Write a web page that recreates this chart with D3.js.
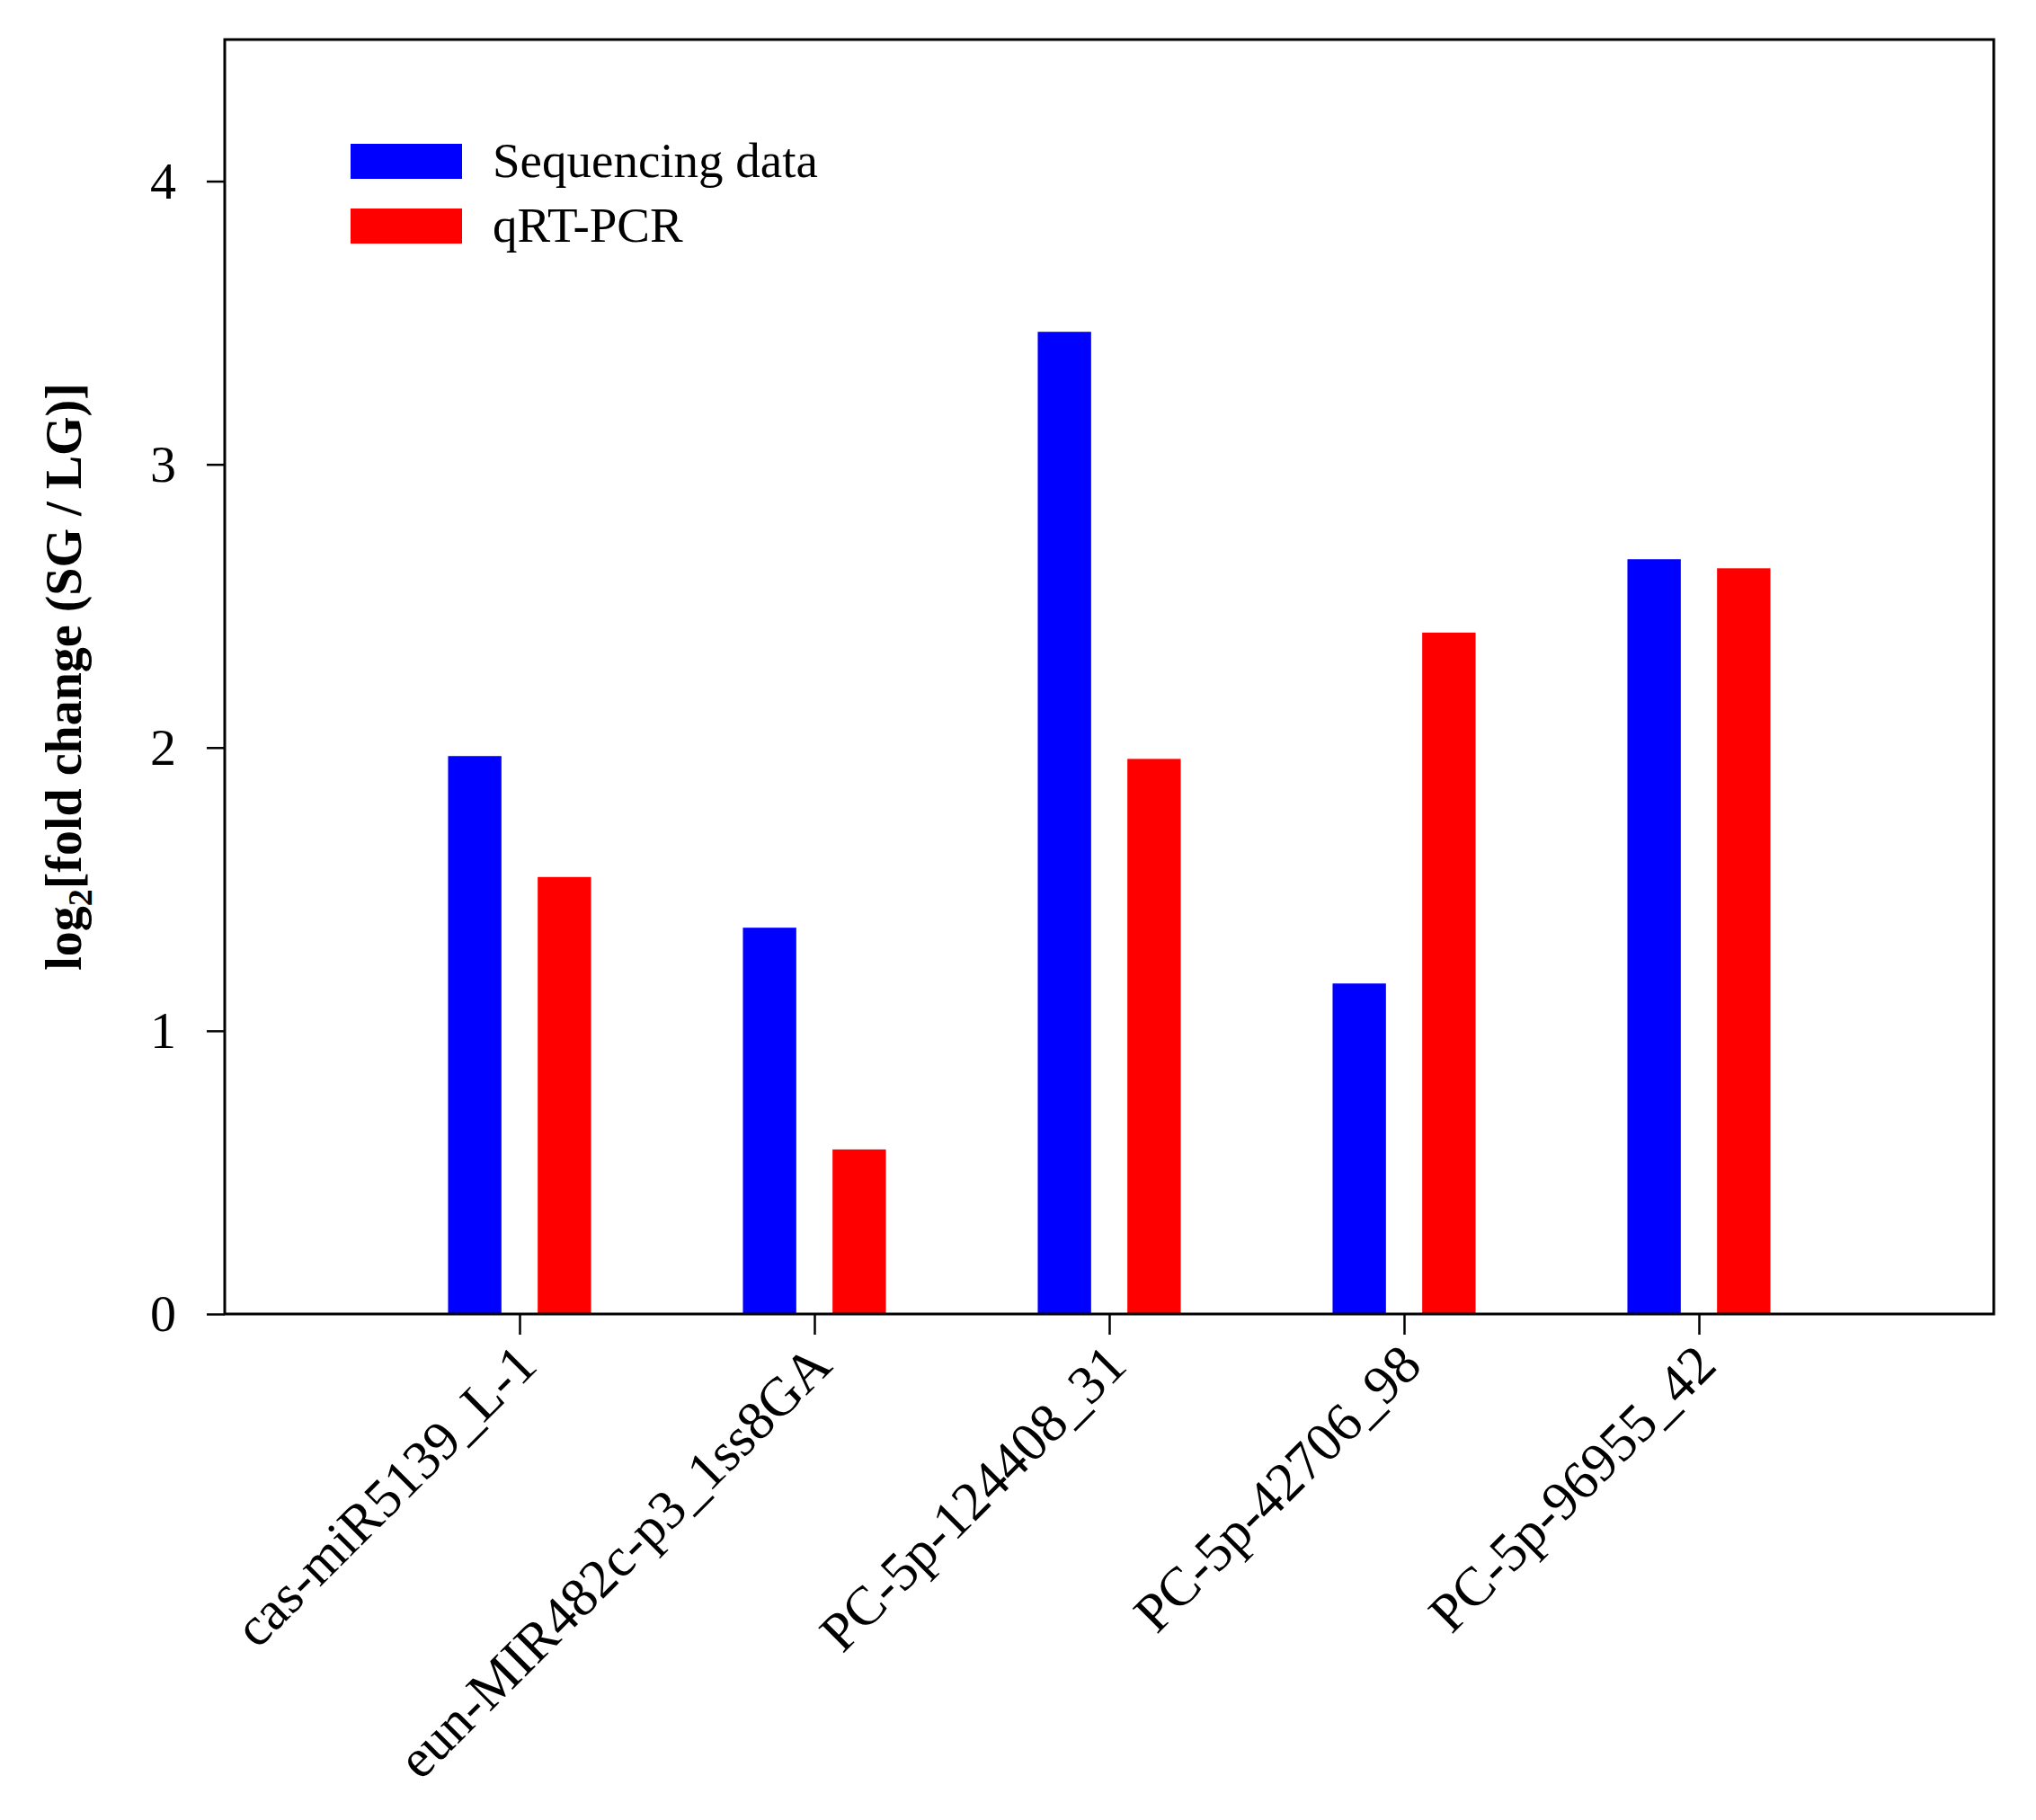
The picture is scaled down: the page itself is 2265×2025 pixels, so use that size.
<!DOCTYPE html>
<html>
<head>
<meta charset="utf-8">
<script src="https://cdn.jsdelivr.net/npm/d3@7"></script>
<style>
  body { margin: 0; background: #fff; }
</style>
</head>
<body>
<script>
// Data
//////////////////////////////////////////////////////////////////////
var categories = ["cas-miR5139_L-1", "eun-MIR482c-p3_1ss8GA", "PC-5p-124408_31", "PC-5p-42706_98", "PC-5p-96955_42"];
var sequencing = [1.97, 1.364, 3.468, 1.167, 2.665];
var qrtpcr = [1.543, 0.581, 1.96, 2.406, 2.633];
var seriesNames = ["Sequencing data", "qRT-PCR"];
var seriesColors = ["#0000ff", "#ff0000"];
var yTicks = [0, 1, 2, 3, 4];

// Layout
//////////////////////////////////////////////////////////////////////
var width = 2265, height = 2025;
var margin = { top: 44, right: 47, bottom: 563, left: 250 };
var font = "'Liberation Serif', 'Times New Roman', serif";

var x = d3.scaleLinear()
  .domain([0, categories.length + 1])
  .range([margin.left, width - margin.right]);
var y = d3.scaleLinear()
  .domain([0, 4.5])
  .range([height - margin.bottom, margin.top]);

var barW = x(0.181) - x(0);
var barOff = 0.152;

var svg = d3.select("body").append("svg")
  .attr("width", width)
  .attr("height", height)
  .attr("font-family", font);

// Bars
//////////////////////////////////////////////////////////////////////
var rows = categories.map((c, i) => ({ c: c, i: i, vals: [sequencing[i], qrtpcr[i]] }));

svg.append("g")
  .selectAll("g")
  .data(rows)
  .join("g")
  .selectAll("rect")
  .data(d => d.vals.map((v, k) => ({ i: d.i, k: k, v: v })))
  .join("rect")
  .attr("x", d => x(d.i + 1 + (d.k === 0 ? -barOff : barOff)) - barW / 2)
  .attr("width", barW)
  .attr("y", d => y(d.v))
  .attr("height", d => y(0) - y(d.v))
  .attr("fill", d => seriesColors[d.k]);

// Axes
//////////////////////////////////////////////////////////////////////
var yAxis = svg.append("g")
  .attr("transform", `translate(${margin.left},0)`)
  .call(d3.axisLeft(y).tickValues(yTicks).tickSize(20).tickPadding(34).tickFormat(d3.format("d")));
yAxis.select(".domain").remove();
yAxis.selectAll("line").attr("stroke-width", 2.5);
yAxis.selectAll("text")
  .attr("font-family", font)
  .attr("font-size", 58)
  .attr("fill", "#000");

var xAxis = svg.append("g")
  .attr("transform", `translate(0,${y(0)})`)
  .call(d3.axisBottom(x).tickValues(categories.map((c, i) => i + 1)).tickSize(23).tickFormat(""));
xAxis.select(".domain").remove();
xAxis.selectAll("line").attr("stroke-width", 2.5);

svg.append("g")
  .selectAll("text")
  .data(categories)
  .join("text")
  .attr("transform", (d, i) => `translate(${x(i + 1) + 22},${y(0) + 60}) rotate(-45)`)
  .attr("text-anchor", "end")
  .attr("font-size", 61)
  .attr("fill", "#000")
  .text(d => d);

// Frame
svg.append("rect")
  .attr("x", margin.left)
  .attr("y", margin.top)
  .attr("width", width - margin.left - margin.right)
  .attr("height", y(0) - margin.top)
  .attr("fill", "none")
  .attr("stroke", "#000")
  .attr("stroke-width", 3);

// Y label
var ylab = svg.append("text")
  .attr("transform", `translate(90,${(margin.top + y(0)) / 2}) rotate(-90)`)
  .attr("text-anchor", "middle")
  .attr("font-size", 56)
  .attr("font-weight", "bold")
  .attr("fill", "#000");
ylab.append("tspan").text("log");
ylab.append("tspan").attr("font-size", 38).attr("dy", 12).text("2");
ylab.append("tspan").attr("dy", -12).text("[fold change (SG / LG)]");

// Legend
//////////////////////////////////////////////////////////////////////
var legend = svg.append("g")
  .selectAll("g")
  .data(seriesNames)
  .join("g")
  .attr("transform", (d, k) => `translate(390,${160 + k * 72})`);
legend.append("rect")
  .attr("width", 124)
  .attr("height", 39)
  .attr("fill", (d, k) => seriesColors[k]);
legend.append("text")
  .attr("x", 158)
  .attr("y", 37)
  .attr("font-size", 55)
  .attr("fill", "#000")
  .text(d => d);
</script>
</body>
</html>
